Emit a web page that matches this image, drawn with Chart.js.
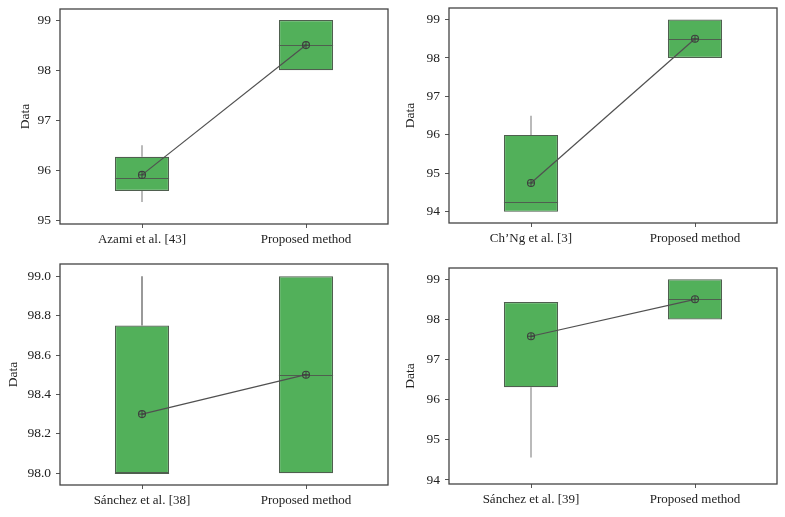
<!DOCTYPE html>
<html lang="en">
<head>
  <meta charset="UTF-8">
  <script src="https://cdn.jsdelivr.net/npm/chart.js"></script>
  <title>Box plots</title>
  <style>
    body { margin: 0; background: #fff; }
    .panel { position: absolute; }
  </style>
</head>
<body>
  <div class="panel" id="pA"><canvas id="chartA"></canvas></div>
  <div class="panel" id="pB"><canvas id="chartB"></canvas></div>
  <div class="panel" id="pC"><canvas id="chartC"></canvas></div>
  <div class="panel" id="pD"><canvas id="chartD"></canvas></div>

  <script>
    // Panel A
    const labelsA = ['Azami et al. [43]', 'Proposed method'];
    const q1A = [95.59, 98];
    const q3A = [96.27, 99];
    const medA = [95.85, 98.5];
    const meanA = [95.91, 98.5];
    const whiskLoA = [95.37, null];
    const whiskHiA = [96.5, null];
    const yTicksA = [95, 96, 97, 98, 99];

    // Panel B
    const labelsB = ['Ch\u2019Ng et al. [3]', 'Proposed method'];
    const q1B = [94, 98];
    const q3B = [96, 99];
    const medB = [94.25, 98.5];
    const meanB = [94.75, 98.5];
    const whiskLoB = [null, null];
    const whiskHiB = [96.5, null];
    const yTicksB = [94, 95, 96, 97, 98, 99];

    // Panel C
    const labelsC = ['Sánchez et al. [38]', 'Proposed method'];
    const q1C = [98, 98];
    const q3C = [98.75, 99];
    const medC = [98, 98.5];
    const meanC = [98.3, 98.5];
    const whiskLoC = [null, null];
    const whiskHiC = [99, null];
    const yTicksC = [98.0, 98.2, 98.4, 98.6, 98.8, 99.0];

    // Panel D
    const labelsD = ['Sánchez et al. [39]', 'Proposed method'];
    const q1D = [96.31, 98];
    const q3D = [98.43, 99];
    const medD = [98.43, 98.5];
    const meanD = [97.58, 98.5];
    const whiskLoD = [94.56, null];
    const whiskHiD = [null, null];
    const yTicksD = [94, 95, 96, 97, 98, 99];

    Chart.defaults.font.family = "'Liberation Serif', 'DejaVu Serif', serif";
    Chart.defaults.font.size = 13;
    Chart.defaults.color = '#222';

    // whiskers behind the boxes, medians on top of them, and the frame round the plot
    const boxExtras = {
      id: 'boxExtras',
      beforeDatasetsDraw(chart, args, opts) {
        const { ctx, scales: { x, y } } = chart;
        ctx.save();
        ctx.strokeStyle = opts.whiskerColor;
        ctx.lineWidth = 1.5;
        const whisker = (ends, box) => ends.forEach((v, i) => {
          if (v == null) return;
          const px = x.getPixelForValue(i);
          ctx.beginPath();
          ctx.moveTo(px, y.getPixelForValue(box[i]));
          ctx.lineTo(px, y.getPixelForValue(v));
          ctx.stroke();
        });
        whisker(opts.lo, opts.q1);
        whisker(opts.hi, opts.q3);
        ctx.restore();
      },
      afterDatasetDraw(chart, args, opts) {
        // box dataset is index 2
        if (args.index !== 2) return;
        const { ctx, scales: { y } } = chart;
        const bars = chart.getDatasetMeta(2).data;
        ctx.save();
        ctx.strokeStyle = '#4f5f4f';
        ctx.lineWidth = 1.2;
        opts.med.forEach((v, i) => {
          const b = bars[i];
          const py = Math.round(y.getPixelForValue(v)) + 0.5;
          ctx.beginPath();
          ctx.moveTo(b.x - b.width / 2, py);
          ctx.lineTo(b.x + b.width / 2, py);
          ctx.stroke();
        });
        ctx.restore();
      },
      afterDraw(chart) {
        const { ctx, chartArea: a } = chart;
        ctx.save();
        ctx.strokeStyle = '#444';
        ctx.lineWidth = 1.3;
        ctx.strokeRect(a.left, a.top, a.right - a.left, a.bottom - a.top);
        ctx.restore();
      }
    };

    function makePanel(id, frame, labels, q1, q3, med, mean, lo, hi, yTicks, yMin, yMax, decimals, whiskerColor, titlePad) {
      const wrap = document.getElementById('p' + id);
      wrap.style.left = (frame.l - 60) + 'px';
      wrap.style.top = (frame.t - 8) + 'px';
      wrap.style.width = (frame.r - frame.l + 66) + 'px';
      wrap.style.height = (frame.b - frame.t + 44) + 'px';

      new Chart(document.getElementById('chart' + id), {
        type: 'bar',
        data: {
          labels: labels,
          datasets: [
            {
              type: 'line',
              data: mean,
              pointStyle: 'cross',
              pointRadius: 3.5,
              pointBorderColor: '#3f3f3f',
              pointBorderWidth: 1,
              showLine: false,
              order: 0
            },
            {
              type: 'line',
              data: mean,
              borderColor: '#505050',
              borderWidth: 1.2,
              pointStyle: 'circle',
              pointRadius: 3.5,
              pointBackgroundColor: 'rgba(0,0,0,0)',
              pointBorderColor: '#3f3f3f',
              pointBorderWidth: 1.1,
              order: 1
            },
            {
              data: q1.map((v, i) => [v, q3[i]]),
              backgroundColor: '#52b05a',
              borderColor: '#4f5f4f',
              borderWidth: 1.2,
              borderSkipped: false,
              barPercentage: 0.33,
              categoryPercentage: 1,
              order: 2
            }
          ]
        },
        options: {
          responsive: true,
          maintainAspectRatio: false,
          animation: false,
          layout: { padding: { top: 8, right: 6, left: 0, bottom: 0 } },
          plugins: {
            legend: { display: false },
            tooltip: { enabled: false },
            boxExtras: { q1, q3, med, lo, hi, whiskerColor }
          },
          scales: {
            x: {
              offset: true,
              grid: { offset: false, drawOnChartArea: false, tickLength: 4, color: '#555' },
              border: { display: false },
              ticks: { padding: 4, color: '#222' },
              afterFit(s) { s.height = 36; s.paddingLeft = 0; s.paddingRight = 0; }
            },
            y: {
              min: yMin,
              max: yMax,
              grid: { drawOnChartArea: false, tickLength: 4, color: '#555' },
              border: { display: false },
              afterBuildTicks(s) { s.ticks = yTicks.map(v => ({ value: v })); },
              ticks: {
                padding: 5,
                color: '#222',
                font: { size: 13.5 },
                callback: v => v.toFixed(decimals)
              },
              title: { display: true, text: 'Data', color: '#222', font: { size: 13.5 }, padding: { top: titlePad, bottom: 0 } },
              afterFit(s) { s.width = 60; s.paddingTop = 0; s.paddingBottom = 0; }
            }
          }
        },
        plugins: [boxExtras]
      });
    }

    makePanel('A', { l: 60, t: 9, r: 388, b: 224 }, labelsA, q1A, q3A, medA, meanA, whiskLoA, whiskHiA, yTicksA, 94.93, 99.22, 0, '#a3a3a3', 17);
    makePanel('B', { l: 449, t: 8, r: 777, b: 223 }, labelsB, q1B, q3B, medB, meanB, whiskLoB, whiskHiB, yTicksB, 93.71, 99.30, 0, '#a3a3a3', 13);
    makePanel('C', { l: 60, t: 264, r: 388, b: 485 }, labelsC, q1C, q3C, medC, meanC, whiskLoC, whiskHiC, yTicksC, 97.94, 99.062, 1, '#777', 5);
    makePanel('D', { l: 449, t: 268, r: 777, b: 484 }, labelsD, q1D, q3D, medD, meanD, whiskLoD, whiskHiD, yTicksD, 93.9, 99.28, 0, '#a3a3a3', 13);
  </script>
</body>
</html>
